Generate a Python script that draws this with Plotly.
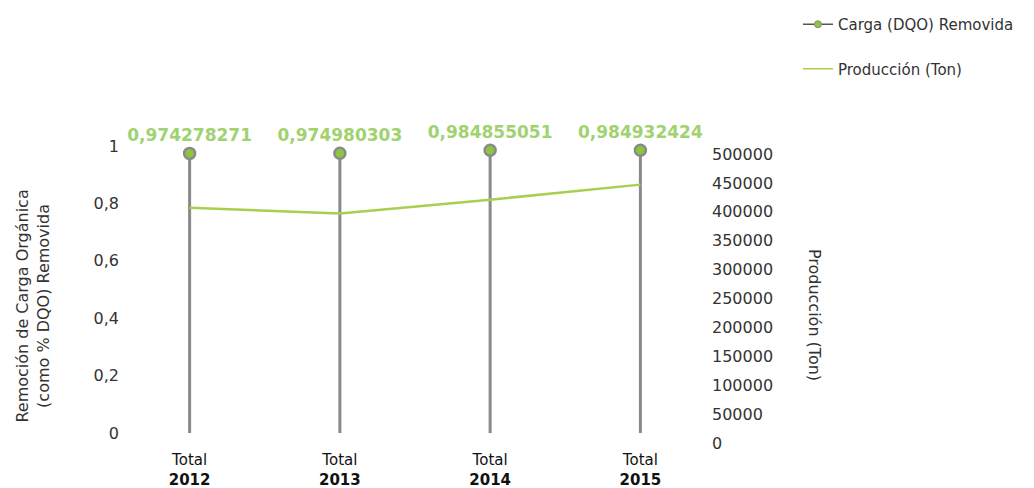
import plotly.graph_objects as go

years = ["2012", "2013", "2014", "2015"]
tick_text = ["Total<br><b>2012</b>", "Total<br><b>2013</b>", "Total<br><b>2014</b>", "Total<br><b>2015</b>"]
carga = [0.974278271, 0.974980303, 0.984855051, 0.984932424]
produccion = [407000, 397000, 421000, 447000]
left_ticks = [0, 0.2, 0.4, 0.6, 0.8, 1]
left_labels = ["0", "0,2", "0,4", "0,6", "0,8", "1"]
right_ticks = list(range(0, 500001, 50000))

GRAY = "#8a8a8a"
GREEN = "#8cc63f"
LINE_GREEN = "#a8cf4f"
LABEL_GREEN = "#a0d270"
FONT = "'DejaVu Sans', sans-serif"

fig = go.Figure()

# stems of the lollipops
for x, v in zip(years, carga):
    fig.add_trace(go.Scatter(x=[x, x], y=[0, v], mode="lines",
                             line=dict(color=GRAY, width=3),
                             showlegend=False, hoverinfo="skip"))

fig.add_trace(go.Scatter(
    x=years, y=carga, mode="markers+text",
    marker=dict(size=11, color=GREEN, line=dict(color=GRAY, width=2.5)),
    text=[f"{v:.9f}".replace(".", ",") for v in carga],
    textposition="top center",
    textfont=dict(color=LABEL_GREEN, size=17, family=FONT, weight="bold"),
    showlegend=False, cliponaxis=False))

fig.add_trace(go.Scatter(
    x=years, y=produccion, yaxis="y2", mode="lines",
    line=dict(color=LINE_GREEN, width=2.5), showlegend=False))

# legend entries
fig.add_trace(go.Scatter(x=[None], y=[None], mode="lines+markers",
                         name="Carga (DQO) Removida",
                         line=dict(color="#555555", width=1.5),
                         marker=dict(size=7, color=GREEN, line=dict(color=GRAY, width=1)),
                         legendgroup="a"))
fig.add_trace(go.Scatter(x=[None], y=[None], mode="lines",
                         name="Producción (Ton)",
                         line=dict(color=LINE_GREEN, width=1.5),
                         legendgroup="b"))

fig.update_layout(
    width=1034, height=488,
    margin=dict(l=120, r=337, t=132, b=53, autoexpand=False),
    plot_bgcolor="white", paper_bgcolor="white",
    font=dict(family=FONT, size=15, color="#333333"),
    xaxis=dict(type="category", tickvals=years, ticktext=tick_text,
               range=[-0.41, 3.43], showgrid=False, zeroline=False,
               showline=False, ticks="", ticklabelstandoff=6,
               tickfont=dict(size=15, color="#111111")),
    yaxis=dict(range=[-0.0348, 1.0209], tickvals=left_ticks, ticktext=left_labels,
               showgrid=False, zeroline=False, showline=False, ticks="",
               ticklabelstandoff=8, tickfont=dict(size=16, color="#333333")),
    yaxis2=dict(overlaying="y", side="right", range=[0, 524221],
                tickvals=right_ticks, ticktext=[str(t) for t in right_ticks],
                showgrid=False, zeroline=False, ticklabelstandoff=6,
                showline=False, ticks="", tickfont=dict(size=16, color="#333333")),
    legend=dict(xref="container", yref="container", x=0.764, y=1.013,
                xanchor="left", yanchor="top", tracegroupgap=22,
                font=dict(size=15, color="#333333")),
    annotations=[
        dict(text="Remoción de Carga Orgánica<br>(como % DQO) Removida",
             xref="paper", yref="paper", x=-0.203, y=0.453, textangle=-90,
             showarrow=False, font=dict(size=16, color="#333333")),
        dict(text="Producción (Ton)", xref="paper", yref="paper",
             x=1.211, y=0.422, textangle=90, showarrow=False,
             font=dict(size=16, color="#333333")),
    ],
)

fig.write_html("out.html")
